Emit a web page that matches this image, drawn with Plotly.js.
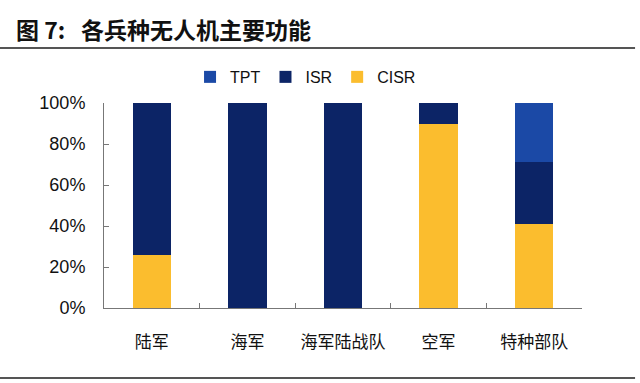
<!DOCTYPE html>
<html>
<head>
<meta charset="utf-8">
<script src="https://cdn.plot.ly/plotly-3.0.1.min.js"></script>
<style>html,body{margin:0;padding:0;background:#fff;}#chart{width:640px;height:383px;}</style>
</head>
<body>
<div id="chart"></div>
<script>
const categories = ['陆军', '海军', '海军陆战队', '空军', '特种部队'];
const cisr = [26, 0, 0, 90, 41];
const isr = [74, 100, 100, 10, 30];
const tpt = [0, 0, 0, 0, 29];
const yTicks = [0, 20, 40, 60, 80, 100];
const titleText = '<b>图 7:\u00a0\u00a0\u00a0各兵种无人机主要功能</b>';

const cjk = '"Noto Sans CJK SC", "Liberation Sans", Arial, sans-serif';
const latin = '"Liberation Sans", Arial, sans-serif';

const traces = [
  {type: 'bar', name: 'CISR', x: categories, y: cisr, marker: {color: '#fbbd2e'}},
  {type: 'bar', name: 'ISR', x: categories, y: isr, marker: {color: '#0c2466'}},
  {type: 'bar', name: 'TPT', x: categories, y: tpt, marker: {color: '#1b49a6'}}
];

const layout = {
  width: 640, height: 383,
  margin: {l: 104, r: 58, t: 103, b: 75},
  paper_bgcolor: '#fff', plot_bgcolor: '#fff',
  barmode: 'stack', bargap: 0.6,
  showlegend: true,
  title: {
    text: titleText, x: 16/640, xref: 'container', xanchor: 'left',
    y: 1 - 31/383, yref: 'container', yanchor: 'middle',
    font: {family: cjk, size: 23, color: '#111'}
  },
  legend: {
    orientation: 'h', traceorder: 'reversed',
    x: 0.18, xanchor: 'left', y: 1.127, yanchor: 'middle',
    font: {family: latin, size: 16, color: '#111'},
    itemwidth: 30, tracegroupgap: 0, bgcolor: 'rgba(0,0,0,0)'
  },
  xaxis: {
    type: 'category', showgrid: false, zeroline: false,
    showline: true, linecolor: '#777', linewidth: 1,
    ticks: 'inside', tickson: 'boundaries', ticklen: 5, tickcolor: '#777',
    tickfont: {family: cjk, size: 17, color: '#111'},
    ticklabelstandoff: 19,
    range: [-0.5, 4.5], fixedrange: true
  },
  yaxis: {
    range: [0, 100], tickvals: yTicks, ticktext: yTicks.map(v => v + '%'),
    showgrid: false, zeroline: false,
    showline: true, linecolor: '#777', linewidth: 1,
    ticks: 'inside', ticklen: 5, tickcolor: '#777',
    tickfont: {family: latin, size: 18, color: '#111'},
    ticklabelstandoff: 14, fixedrange: true
  },
  shapes: [
    {type: 'line', xref: 'paper', yref: 'paper', x0: -0.2176, x1: 1.111, y0: 1.268, y1: 1.268, line: {color: '#555', width: 2}},
    {type: 'line', xref: 'paper', yref: 'paper', x0: -0.2176, x1: 1.111, y0: -0.341, y1: -0.341, line: {color: '#555', width: 2}}
  ]
};

Plotly.newPlot('chart', traces, layout, {displayModeBar: false, staticPlot: true});
</script>
</body>
</html>
